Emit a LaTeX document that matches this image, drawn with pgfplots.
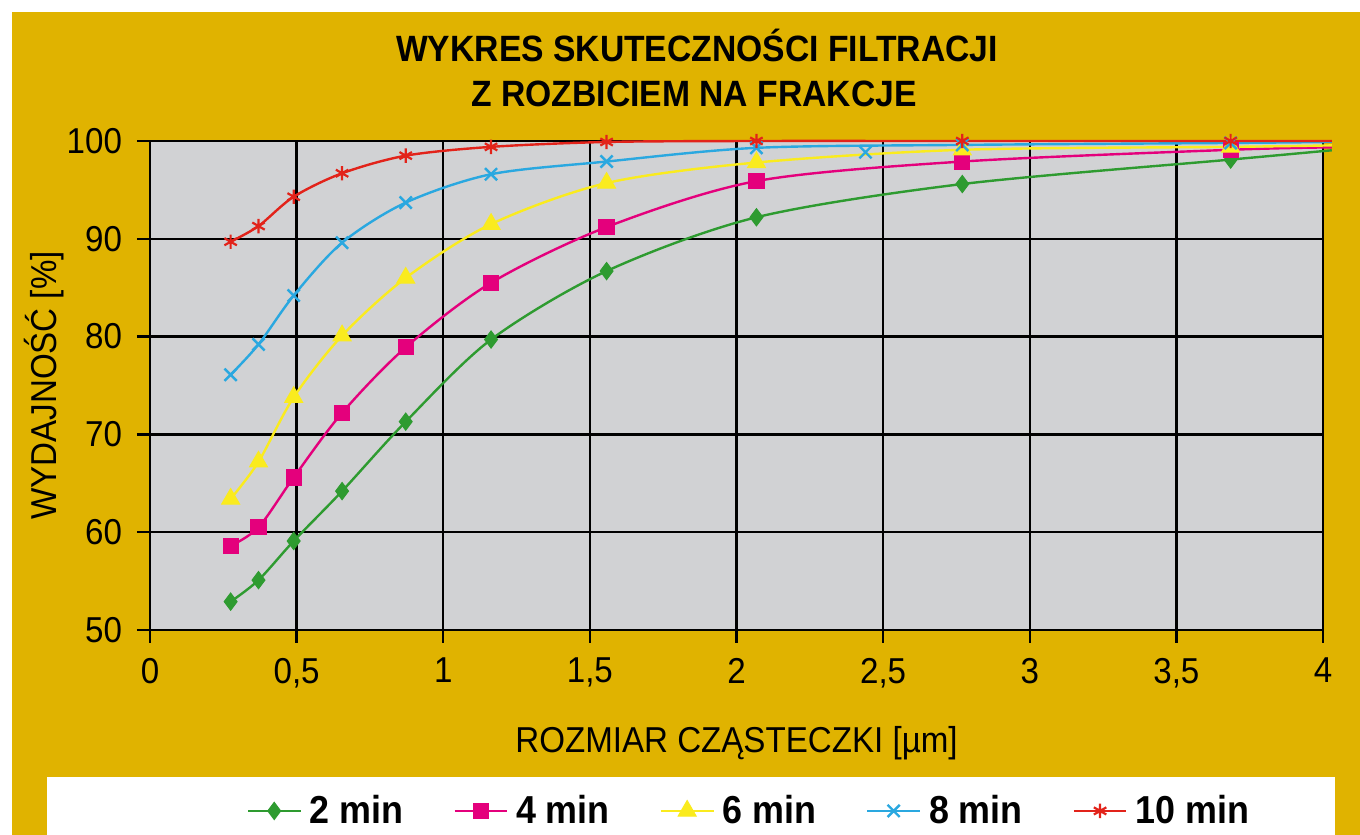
\documentclass[border=0pt]{standalone}
\usepackage{fontspec}
\setmainfont{Liberation Sans}[FakeStretch=0.92]
\usepackage{pgfplots}
\pgfplotsset{compat=1.18}
\definecolor{bggold}{HTML}{E0B300}
\definecolor{plotgray}{HTML}{D1D2D4}
\definecolor{cgreen}{HTML}{2E9B30}
\definecolor{cmag}{HTML}{E4007C}
\definecolor{cyel}{HTML}{FAEB1E}
\definecolor{cblue}{HTML}{2AA8E0}
\definecolor{cred}{HTML}{E2231A}
\begin{document}
\begin{tikzpicture}[x=0.5pt,y=0.5pt]
\fill[white] (0,0) rectangle (1360,835);
\fill[bggold] (12,0) rectangle (1360,823);
\fill[white] (47,0) rectangle (1335,58);
\node[font=\fontsize{18.3}{20}\selectfont\bfseries, anchor=base] at (697,773) {WYKRES SKUTECZNOŚCI FILTRACJI};
\node[font=\fontsize{18.3}{20}\selectfont\bfseries, anchor=base] at (694,728) {Z ROZBICIEM NA FRAKCJE};
\begin{axis}[
  at={(75pt,102.5pt)}, anchor=south west,
  scale only axis, width=586.5pt, height=244.5pt,
  xmin=0, xmax=4, ymin=50, ymax=100,
  xtick={0,0.5,...,4}, ytick={50,60,...,100},
  grid=major, major grid style={black, line width=1.2pt},
  axis line style={black, line width=1.2pt},
  tick style={black, line width=1.2pt},
  tick align=outside, major tick length=6.5pt,
  xtick pos=left, ytick pos=left,
  axis background/.style={fill=plotgray},
  clip=false,
  ticklabel style={font=\fontsize{18}{20}\selectfont},
  /pgf/number format/.cd, use comma, assume math mode=true, /pgfplots/.cd,
  yticklabel style={xshift=-4pt},
  xticklabel style={yshift=-4pt},
  xlabel={ROZMIAR CZĄSTECZKI [µm]}, ylabel={WYDAJNOŚĆ [\%]},
  label style={font=\fontsize{18}{20}\selectfont},
  xlabel style={at={(axis description cs:0.5,-0.2515)}, anchor=base},
  ylabel style={at={(axis description cs:-0.0904,0.5)}, anchor=center},
  legend columns=5,
  legend style={at={(axis description cs:0.5115,-0.37)}, anchor=center, draw=none, fill=none,
    font=\fontsize{19.5}{21}\selectfont\bfseries,
    /tikz/every even column/.append style={column sep=23pt},
    /tikz/every odd column/.append style={column sep=2pt}},
  legend image code/.code={\draw[mark indices={2}] plot coordinates {(0cm,0cm) (0.46cm,0cm) (0.92cm,0cm)};},
  every axis plot/.append style={line width=1.2pt, smooth},
]
\addplot[cgreen, mark=diamond*, mark size=4.3pt, mark indices={1,...,10}, mark options={fill=cgreen, draw=cgreen, line width=0.5pt}] coordinates {
(0.275,52.9) (0.37,55.1) (0.49,59.1) (0.655,64.2) (0.872,71.3) (1.163,79.7) (1.557,86.7) (2.068,92.2) (2.77,95.6) (3.685,98.1) (4.03,99.05)};
\addlegendentry{2 min}
\addplot[cmag, mark=square*, mark size=3.8pt, mark indices={1,...,10}, mark options={fill=cmag, draw=cmag, line width=0.5pt}] coordinates {
(0.275,58.6) (0.37,60.5) (0.49,65.6) (0.655,72.2) (0.872,78.9) (1.163,85.5) (1.557,91.2) (2.068,95.9) (2.77,97.9) (3.685,99.1) (4.03,99.35)};
\addlegendentry{4 min}
\addplot[cyel, mark=triangle*, mark size=5.2pt, mark indices={1,...,10}, mark options={fill=cyel, draw=cyel, line width=0.5pt}] coordinates {
(0.275,63.4) (0.37,67.2) (0.49,73.8) (0.655,80.1) (0.872,86.0) (1.163,91.5) (1.557,95.7) (2.068,97.8) (2.77,99.1) (3.685,99.4) (4.03,99.55)};
\addlegendentry{6 min}
\addplot[cblue, mark=x, mark size=4.3pt, mark indices={1,...,10}, mark options={line width=1.2pt}] coordinates {
(0.275,76.1) (0.37,79.2) (0.49,84.2) (0.655,89.6) (0.872,93.7) (1.163,96.6) (1.557,97.9) (2.068,99.3) (2.77,99.6) (3.685,99.8) (4.03,99.9)};
\addlegendentry{8 min}
\addplot[cblue, only marks, mark=x, mark size=4.3pt, mark options={line width=1.2pt}, forget plot] coordinates {(2.44,98.85)};
\addplot[cred, mark=asterisk, mark size=3.6pt, mark indices={1,...,10}, mark options={line width=1.1pt}] coordinates {
(0.275,89.7) (0.37,91.3) (0.49,94.3) (0.655,96.7) (0.872,98.5) (1.163,99.4) (1.557,99.9) (2.068,100) (2.77,100) (3.685,100) (4.03,100)};
\addlegendentry{10 min}
\end{axis}
\end{tikzpicture}
\end{document}
